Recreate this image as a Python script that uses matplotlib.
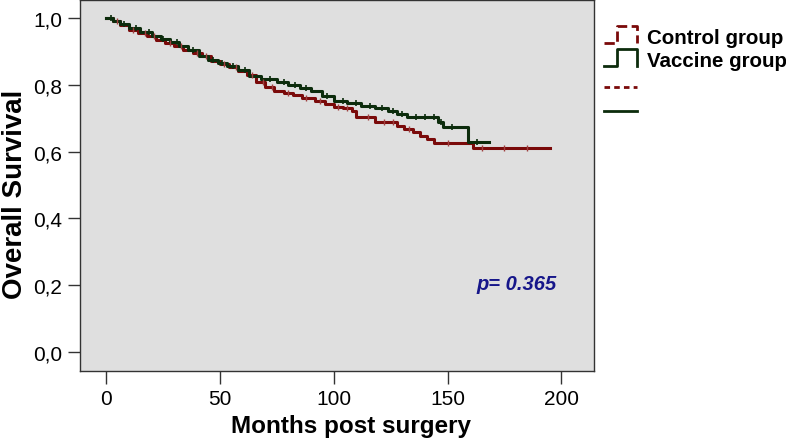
import numpy as np
import matplotlib
matplotlib.use("Agg")
import matplotlib.pyplot as plt
from matplotlib.legend_handler import HandlerBase
from matplotlib.lines import Line2D

plt.rcParams['font.family'] = ['Liberation Sans', 'DejaVu Sans']

# Kaplan-Meier step data (months, survival)
control_t = [0, 3, 6, 10, 14, 18, 22, 26, 30, 34, 38, 42, 46, 50, 54, 58, 62, 66, 70,
             74, 78, 82, 86, 92, 96, 100, 104, 108, 110, 118, 128, 131, 135, 138, 141, 144, 161, 195]
control_s = [1.0, 0.99, 0.98, 0.965, 0.955, 0.945, 0.935, 0.925, 0.915, 0.905, 0.895, 0.885,
             0.872, 0.862, 0.852, 0.842, 0.830, 0.808, 0.792, 0.782, 0.776, 0.770, 0.760, 0.752,
             0.742, 0.735, 0.730, 0.722, 0.703, 0.690, 0.678, 0.668, 0.658, 0.648, 0.638, 0.626,
             0.611, 0.611]

vaccine_t = [0, 3, 6, 10, 15, 20, 24, 28, 32, 36, 41, 45, 49, 53, 58, 63, 68, 75, 80, 85,
             90, 95, 100, 106, 112, 118, 124, 128, 132, 146, 148, 159, 168]
vaccine_s = [1.0, 0.99, 0.982, 0.97, 0.957, 0.945, 0.937, 0.927, 0.917, 0.905, 0.887, 0.875,
             0.865, 0.855, 0.845, 0.827, 0.818, 0.807, 0.800, 0.790, 0.780, 0.765, 0.752, 0.745,
             0.737, 0.730, 0.722, 0.712, 0.703, 0.688, 0.673, 0.628, 0.628]

# censored observations (months)
control_cens = [5, 12, 17, 21, 28, 33, 40, 44, 52, 57, 64, 69, 73, 80, 88, 94, 102, 106,
                115, 122, 126, 133, 150, 165, 175, 185]
vaccine_cens = [2, 8, 13, 19, 25, 31, 38, 47, 51, 56, 61, 72, 78, 83, 88, 97, 104, 110,
                116, 121, 126, 130, 136, 140, 144, 147, 152, 163]

xticks = [0, 50, 100, 150, 200]
yticks = [0.0, 0.2, 0.4, 0.6, 0.8, 1.0]
ytick_labels = ['0,0', '0,2', '0,4', '0,6', '0,8', '1,0']

red = '#7a0a0a'
green = '#0c2c0c'
frame = '#333333'


def surv_at(times, surv, t):
    idx = np.searchsorted(times, t, side='right') - 1
    return np.array(surv)[idx]


class HandlerStep(HandlerBase):
    def create_artists(self, legend, orig_handle, xdescent, ydescent, width, height, fontsize, trans):
        x0 = -xdescent
        y0 = -ydescent
        xs = [x0, x0 + width * 0.4, x0 + width * 0.4, x0 + width, x0 + width]
        ys = [y0, y0, y0 + height * 1.2, y0 + height * 1.2, y0]
        ln = Line2D(xs, ys, color=orig_handle.get_color(), lw=orig_handle.get_linewidth(),
                    linestyle=orig_handle.get_linestyle(), transform=trans)
        return [ln]


fig = plt.figure(figsize=(7.86, 4.39), dpi=100)
ax = fig.add_axes([80 / 786, 1 - 372 / 439, (594 - 80) / 786, (372 - 0.5) / 439])
ax.set_facecolor('#dfdfdf')

ax.step(control_t, control_s, where='post', color=red, lw=2.2)
ax.step(vaccine_t, vaccine_s, where='post', color=green, lw=2.2)
ax.plot(control_cens, surv_at(control_t, control_s, control_cens), linestyle='none',
        marker='|', ms=5, mew=1, color='#a04040')
ax.plot(vaccine_cens, surv_at(vaccine_t, vaccine_s, vaccine_cens), linestyle='none',
        marker='|', ms=5, mew=1.2, color=green)

ax.set_xlim(-11.4, 214.3)
ax.set_ylim(-0.057, 1.0554)
ax.set_xticks(xticks)
ax.set_xticklabels([str(v) for v in xticks])
ax.set_yticks(yticks)
ax.set_yticklabels(ytick_labels)
ax.tick_params(direction='out', length=9, width=1, color=frame, labelsize=15, pad=4)
for sp in ax.spines.values():
    sp.set_color(frame)
    sp.set_linewidth(1)

ax.set_xlabel('Months post surgery', fontsize=17.5, fontweight='bold')
ax.set_ylabel('Overall Survival', fontsize=20, fontweight='bold')
ax.xaxis.set_label_coords(0.527, -0.115)
ax.yaxis.set_label_coords(-0.102, 0.478)

ax.text(180.5, 0.205, 'p= 0.365', fontsize=14.5, fontweight='bold', fontstyle='italic',
        color='#16168a', ha='center', va='center')

h_ctrl = Line2D([], [], color=red, lw=2, linestyle=(0, (2, 1.5)))
h_vacc = Line2D([], [], color=green, lw=2)
h_ctrl_c = Line2D([], [], color=red, lw=2, linestyle=(0, (2, 1.5)))
h_vacc_c = Line2D([], [], color=green, lw=2)
leg_kw = dict(loc='upper left', frameon=False, prop={'weight': 'bold', 'size': 14.8},
              handlelength=1.6, handletextpad=0.5,
              borderaxespad=0, borderpad=0)
leg1 = fig.legend([h_ctrl, h_vacc], ['Control group', 'Vaccine group'],
                  handler_map={h_ctrl: HandlerStep(), h_vacc: HandlerStep()},
                  bbox_to_anchor=(604 / 786, 1 - 29 / 439), labelspacing=0.2, **leg_kw)
leg2 = fig.legend([h_ctrl_c, h_vacc_c], [' ', ' '],
                  bbox_to_anchor=(604 / 786, 1 - 80 / 439), labelspacing=0.25, **leg_kw)

fig.savefig('out.png', dpi=100)
